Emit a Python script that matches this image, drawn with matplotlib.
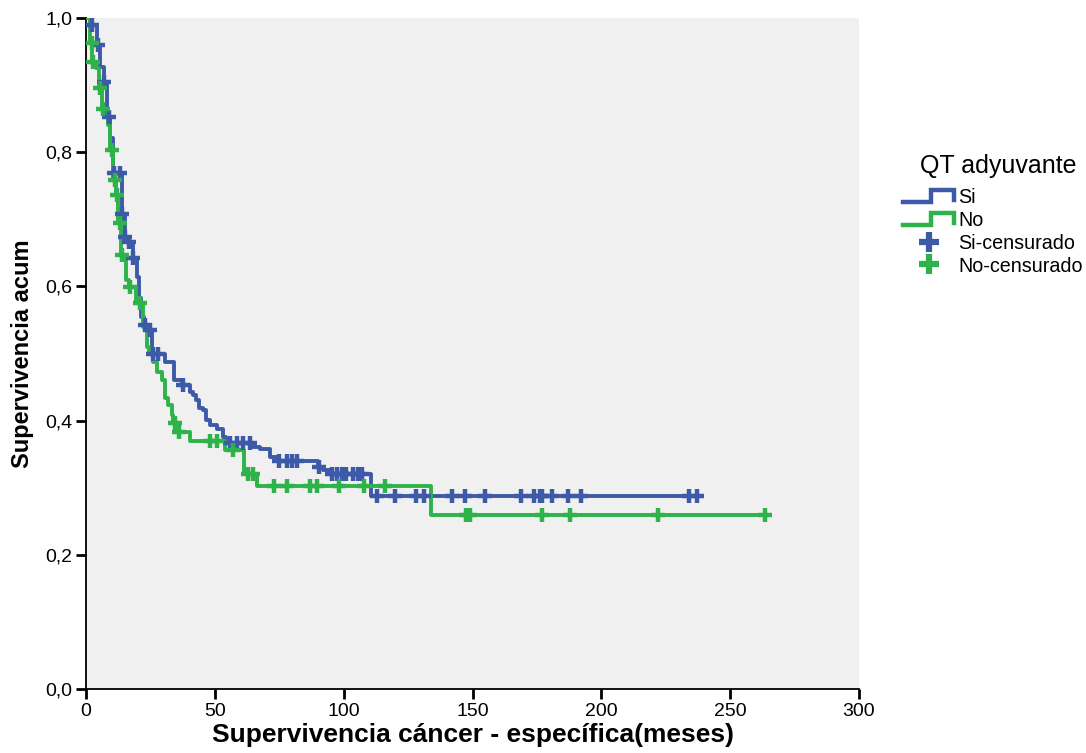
import matplotlib
matplotlib.use('Agg')
import matplotlib.pyplot as plt
import numpy as np
from matplotlib.lines import Line2D
from matplotlib.legend_handler import HandlerBase
from matplotlib.ticker import FuncFormatter

plt.rcParams['font.family'] = ['Liberation Sans', 'DejaVu Sans']

# Kaplan-Meier steps (time in months, cumulative survival)
si_t = [0, 1.5, 4.3, 5.5, 6.8, 8.2, 9.3, 10.3, 13.8, 15.0, 16.5, 17.5, 18.2, 19.6,
        20.5, 21.3, 22.5, 24.5, 25.5, 30.7, 34.3, 37.3, 40.4, 41.5, 42.5, 44.0,
        45.4, 46.5, 48.1, 50.8, 53.2, 54.5, 64.8, 67.5, 71.4, 74.1, 90.0, 92.0,
        94.7, 110.6]
si_s = [1.0, 0.99, 0.96, 0.927, 0.905, 0.852, 0.821, 0.769, 0.708, 0.674, 0.666,
        0.662, 0.642, 0.614, 0.583, 0.554, 0.542, 0.535, 0.50, 0.487, 0.460, 0.453,
        0.443, 0.438, 0.43, 0.419, 0.416, 0.401, 0.393, 0.387, 0.376, 0.367, 0.361,
        0.358, 0.346, 0.340, 0.331, 0.326, 0.320, 0.287]
si_end = 238
si_cens = [2.2, 4.7, 7.0, 9.0, 10.8, 13.2, 14.0, 15.1, 16.7, 18.3, 22.9, 24.8,
           26.0, 28.0, 37.5, 56, 58.6, 61.0, 63.6, 75, 78, 80, 82, 90.5, 95.5,
           97.4, 99.3, 101, 103.6, 105.5, 107, 113, 120, 128, 131, 142, 147, 155,
           169, 174, 176, 177, 181, 187, 192, 234, 237]

no_t = [0, 1.5, 2.5, 3.8, 5.0, 6.2, 8.5, 9.5, 10.6, 11.5, 12.6, 13.5, 15.5, 16.5,
        19.5, 22.0, 23.5, 24.5, 26.0, 27.5, 29.5, 30.7, 31.8, 33.4, 33.8, 35.0,
        40.4, 54.0, 61.3, 66.4, 133.7]
no_s = [1.0, 0.963, 0.934, 0.925, 0.896, 0.864, 0.84, 0.803, 0.759, 0.736, 0.694,
        0.647, 0.61, 0.599, 0.575, 0.54, 0.51, 0.50, 0.487, 0.472, 0.460, 0.434,
        0.423, 0.408, 0.396, 0.383, 0.370, 0.356, 0.320, 0.303, 0.259]
no_end = 263.5
no_cens = [2.2, 2.8, 5.4, 6.5, 10.0, 11.3, 11.9, 13.2, 13.8, 17.0, 21.0, 34.5,
           36.0, 48.0, 51.0, 57.0, 63.0, 65.0, 73.0, 78.0, 87.0, 89.5, 98.0, 108.0,
           116.0, 147.5, 149.0, 177.0, 188.0, 222.0, 263.5]

x_ticks = [0, 50, 100, 150, 200, 250, 300]
y_ticks = [0.0, 0.2, 0.4, 0.6, 0.8, 1.0]

blue = '#3d5aa8'
green = '#2db34a'


def surv_at(times, surv, t):
    idx = np.searchsorted(times, t, side='right') - 1
    return np.array(surv)[idx]


class StepHandler(HandlerBase):
    def create_artists(self, legend, orig_handle, xdescent, ydescent, width,
                       height, fontsize, trans):
        x = np.array([0, 0.55, 0.55, 1.0, 1.0]) * width - xdescent
        y = np.array([0.1, 0.1, 0.9, 0.9, 0.25]) * height - ydescent
        line = Line2D(x, y, color=orig_handle.get_color(), lw=3.2,
                      solid_joinstyle='miter')
        line.set_transform(trans)
        return [line]


fig = plt.figure(figsize=(10.86, 7.53), dpi=100)
ax = fig.add_axes([0.0792, 0.085, 0.7118, 0.891])
ax.set_facecolor('#f0f0f0')

for times, surv, end, cens, col in [(si_t, si_s, si_end, si_cens, blue),
                                    (no_t, no_s, no_end, no_cens, green)]:
    tt = list(times) + [end]
    ss = list(surv) + [surv[-1]]
    ax.step(tt, ss, where='post', color=col, lw=2.8, zorder=3)
    ax.plot(cens, surv_at(times, surv, cens), '+', color=col, ms=10, mew=3.2,
            zorder=4, linestyle='none')

ax.set_xlim(0, 300)
ax.set_ylim(0, 1.0)
ax.set_xticks(x_ticks)
ax.set_yticks(y_ticks)
ax.yaxis.set_major_formatter(FuncFormatter(lambda v, p: f'{v:.1f}'.replace('.', ',')))
ax.tick_params(axis='both', labelsize=14, length=7, width=2, direction='out', pad=3)
ax.spines['top'].set_visible(False)
ax.spines['right'].set_visible(False)
ax.spines['left'].set_linewidth(1.3)
ax.spines['bottom'].set_linewidth(1.3)
ax.set_xlabel('Supervivencia cáncer - específica(meses)', fontsize=19,
              fontweight='bold', labelpad=2)
ax.set_ylabel('Supervivencia acum', fontsize=17, fontweight='bold', labelpad=8)

fig.text(998 / 1086, 1 - 166 / 753, 'QT adyuvante', fontsize=18,
         ha='center', va='center')

h_si = Line2D([], [], color=blue)
h_no = Line2D([], [], color=green)
h_sic = Line2D([], [], marker='+', color=blue, ms=14, mew=4.5, linestyle='none')
h_noc = Line2D([], [], marker='+', color=green, ms=14, mew=4.5, linestyle='none')
leg = fig.legend([h_si, h_no, h_sic, h_noc],
                 ['Si', 'No', 'Si-censurado', 'No-censurado'],
                 handler_map={h_si: StepHandler(), h_no: StepHandler()},
                 loc='upper left', bbox_to_anchor=(903 / 1086, 1 - 188 / 753),
                 frameon=False, fontsize=14.2, handlelength=2.6,
                 handleheight=0.85, handletextpad=0.2, labelspacing=0.2,
                 borderaxespad=0, borderpad=0)

fig.savefig('out.png', dpi=100)
